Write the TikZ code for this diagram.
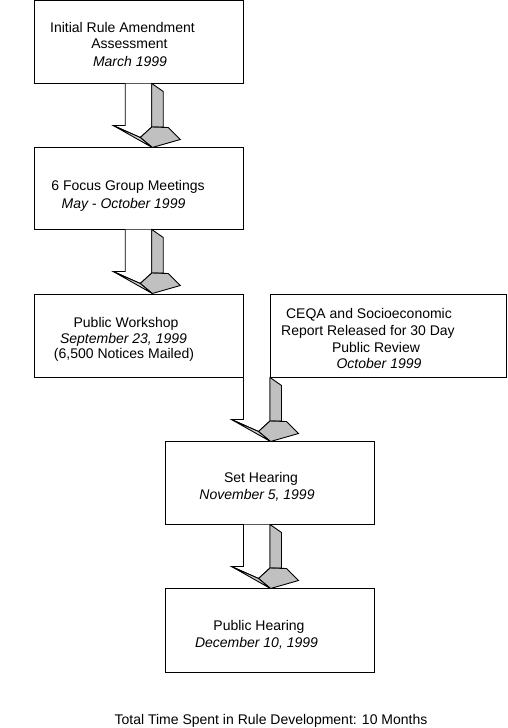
\documentclass[tikz,border=0pt]{standalone}
\usepackage{fontspec}
\setmainfont{Liberation Sans}
\usetikzlibrary{calc}
\definecolor{sidegray}{HTML}{C0C0C0}
\definecolor{litegray}{HTML}{CDCDCD}
\tikzset{
  box/.style={draw=black, line width=1pt, inner sep=0pt},
  lbl/.style={anchor=base, inner sep=0pt, font=\fontsize{14}{16.5}\selectfont},
  ilbl/.style={lbl, font=\fontsize{14}{16.5}\selectfont\itshape},
  blockarrow/.pic={
    \fill[white] (0,0) -- (0,42) -- (-12,42) -- (15,54) -- (26.5,43.5) -- (26.5,0) -- cycle;
    \draw[line width=0.9pt] (0,0) -- (0,42) -- (-12,42) -- (15,54) -- (26.5,43.5) -- (26.5,0);
    \filldraw[fill=sidegray, line width=0.9pt] (26.5,0) -- (38,8) -- (38,43.5) -- (26.5,43.5) -- cycle;
    \filldraw[fill=sidegray, line width=0.9pt] (15,54) -- (26.5,43.5) -- (43,44) -- (55,56) -- (27,64) -- cycle;
    \filldraw[fill=litegray, line width=0.9pt] (-12,42) -- (15,54) -- (27,64) -- cycle;
  }
}
\begin{document}
\begin{tikzpicture}[x=1pt, y=-1pt]
\useasboundingbox (0,0) rectangle (507,728);
% boxes
\node[box, minimum width=209pt, minimum height=82.5pt] (b1) at (138.5,41.75) {};
\node[box, minimum width=209pt, minimum height=82pt] (b2) at (138.5,188) {};
\node[box, minimum width=209pt, minimum height=83pt] (b3) at (138.5,335.5) {};
\node[box, minimum width=236pt, minimum height=83pt] (ceqa) at (388,335.5) {};
\node[box, minimum width=209pt, minimum height=83pt] (sh) at (269.5,482.5) {};
\node[box, minimum width=209pt, minimum height=84pt] (ph) at (269.5,630) {};
% arrows
\pic at ($(b1.south)+(-13.25,0)$) {blockarrow};
\pic at ($(b2.south)+(-13.25,0)$) {blockarrow};
\pic at (b3.south east) {blockarrow};
\pic at (b3.south east |- sh.south) {blockarrow};
% texts
\node[lbl] (t1a) at (122.5,32) {Initial Rule Amendment};
\node[lbl] (t1b) at (129.5,48.5) {Assessment};
\node[ilbl] (t1c) at (130,66.5) {March 1999};
\node[lbl] (t2a) at (128,190.5) {6 Focus Group Meetings};
\node[ilbl] (t2b) at (123.5,208) {May - October 1999};
\node[lbl] (t3a) at (126,327) {Public Workshop};
\node[ilbl] (t3b) at (123.5,343) {September 23, 1999};
\node[lbl] (t3c) at (124,358.5) {(6,500 Notices Mailed)};
\node[lbl] (c1) at (369,318) {CEQA and Socioeconomic};
\node[lbl] (c2) at (368,335.5) {Report Released for 30 Day};
\node[lbl] (c3) at (376,352) {Public Review};
\node[ilbl] (c4) at (379,368) {October 1999};
\node[lbl] (s1) at (261,482) {Set Hearing};
\node[ilbl] (s2) at (257,499) {November 5, 1999};
\node[lbl] (p1) at (259,630) {Public Hearing};
\node[ilbl] (p2) at (256.5,647) {December 10, 1999};
\node[lbl] (total) at (271,724.5) {Total Time Spent in Rule Development: 10 Months};
\end{tikzpicture}
\end{document}
